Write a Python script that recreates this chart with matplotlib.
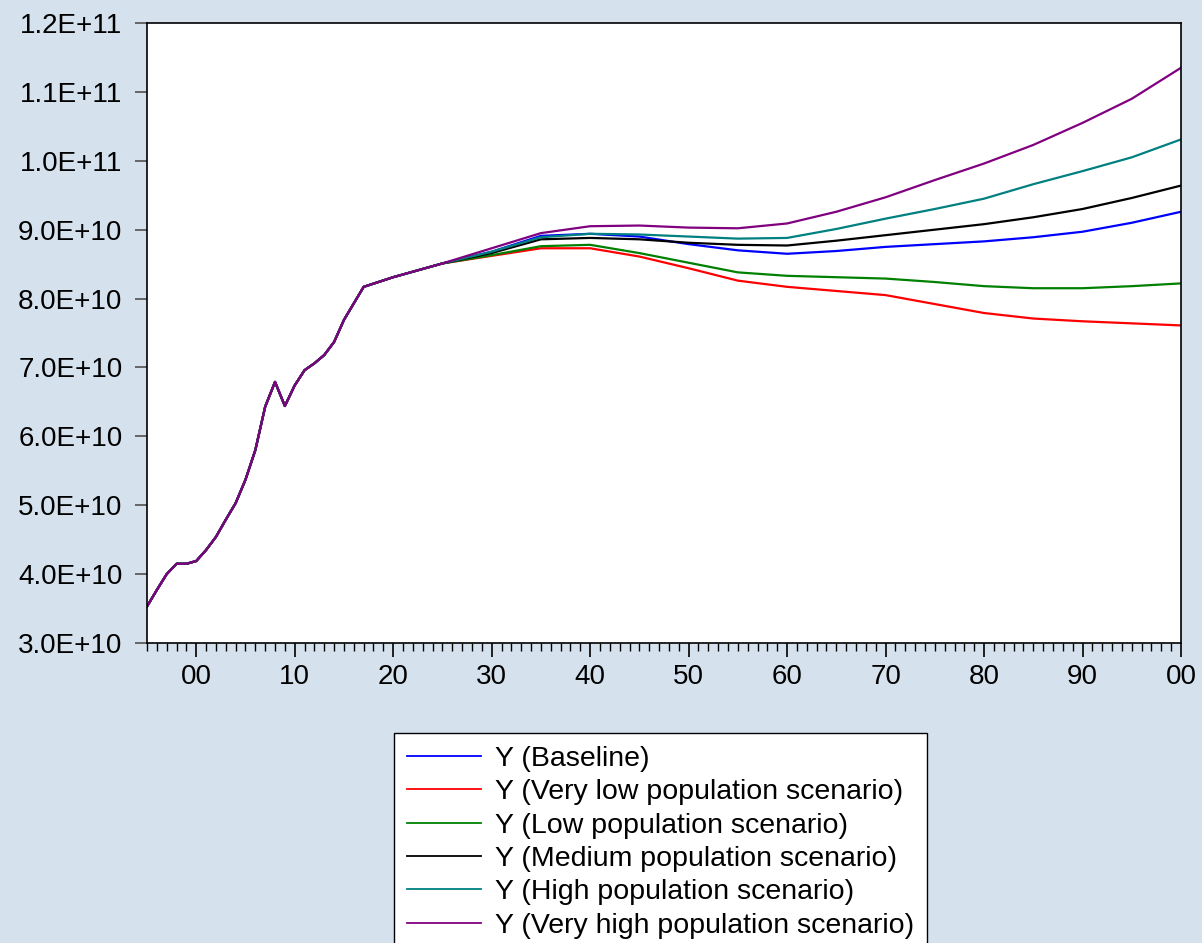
import numpy as np
import matplotlib
matplotlib.use("Agg")
import matplotlib.pyplot as plt
from matplotlib.ticker import FuncFormatter, MultipleLocator

plt.rcParams["font.family"] = ["Liberation Sans", "DejaVu Sans"]

# ── Data (values in units of 1E10) ───────────────────────────────────────────
hist_years = np.arange(1995, 2018)
hist_vals = [3.53, 3.77, 4.00, 4.15, 4.15, 4.19, 4.35, 4.54, 4.79, 5.03, 5.37,
             5.80, 6.43, 6.79, 6.44, 6.74, 6.96, 7.06, 7.18, 7.37, 7.69, 7.93, 8.17]

proj_years = np.arange(2020, 2101, 5)
baseline   = [8.31, 8.51, 8.68, 8.91, 8.94, 8.90, 8.79, 8.70, 8.65, 8.69, 8.75, 8.79, 8.83, 8.89, 8.97, 9.10, 9.26]
very_low   = [8.31, 8.51, 8.62, 8.73, 8.73, 8.61, 8.44, 8.26, 8.17, 8.11, 8.05, 7.92, 7.79, 7.71, 7.67, 7.64, 7.61]
low        = [8.31, 8.51, 8.63, 8.76, 8.78, 8.66, 8.52, 8.38, 8.33, 8.31, 8.29, 8.24, 8.18, 8.15, 8.15, 8.18, 8.22]
medium     = [8.31, 8.51, 8.66, 8.86, 8.88, 8.86, 8.81, 8.78, 8.77, 8.84, 8.92, 9.00, 9.08, 9.18, 9.30, 9.46, 9.64]
high       = [8.31, 8.51, 8.68, 8.89, 8.94, 8.93, 8.90, 8.87, 8.88, 9.01, 9.16, 9.30, 9.45, 9.66, 9.85, 10.05, 10.31]
very_high  = [8.31, 8.51, 8.73, 8.95, 9.05, 9.06, 9.03, 9.02, 9.09, 9.26, 9.47, 9.72, 9.96, 10.23, 10.55, 10.90, 11.35]

series = [
    ("Y (Baseline)",                       baseline,  "#0000FF"),
    ("Y (Very low population scenario)",   very_low,  "#FF0000"),
    ("Y (Low population scenario)",        low,       "#008000"),
    ("Y (Medium population scenario)",     medium,    "#000000"),
    ("Y (High population scenario)",       high,      "#008080"),
    ("Y (Very high population scenario)",  very_high, "#800080"),
]

# ── Plot ─────────────────────────────────────────────────────────────────────
BG = "#D5E2EE"
fig = plt.figure(figsize=(12.02, 9.43), dpi=100, facecolor=BG)
ax = fig.add_axes([147 / 1202, 1 - 643 / 943, (1181 - 147) / 1202, (643 - 23) / 943])
ax.set_facecolor("white")

for label, vals, color in series:
    x = np.concatenate([hist_years, proj_years])
    y = np.concatenate([hist_vals, vals]) * 1e10
    ax.plot(x, y, color=color, lw=1.6, label=label)

ax.set_xlim(1995, 2100)
ax.set_ylim(3e10, 1.2e11)
ax.xaxis.set_major_locator(MultipleLocator(10))
ax.xaxis.set_minor_locator(MultipleLocator(1))
ax.yaxis.set_major_locator(MultipleLocator(1e10))
ax.xaxis.set_major_formatter(FuncFormatter(lambda v, p: f"{int(round(v)) % 100:02d}"))
ax.yaxis.set_major_formatter(FuncFormatter(lambda v, p: f"{v:.1E}"))

ax.tick_params(axis="x", which="major", direction="out", length=10, width=1.2,
               labelsize=20, pad=5, color="black")
ax.tick_params(axis="x", which="minor", direction="out", length=5.8, width=1.0, color="black")
ax.tick_params(axis="y", which="major", direction="out", length=8.6, width=1.2,
               labelsize=20, pad=9, color="#505050")
for s in ax.spines.values():
    s.set_linewidth(1.2)
    s.set_color("black")

leg = fig.legend(loc="upper left", bbox_to_anchor=(394 / 1202, 1 - 733 / 943),
                 bbox_transform=fig.transFigure, borderaxespad=0, fontsize=20.5,
                 frameon=True, fancybox=False, framealpha=1, edgecolor="black",
                 handlelength=2.6, handletextpad=0.5, labelspacing=0.26,
                 borderpad=0.45)
leg.get_frame().set_linewidth(1.0)
for line in leg.get_lines():
    line.set_linewidth(1.3)

fig.savefig("out.png", dpi=100, facecolor=BG)
